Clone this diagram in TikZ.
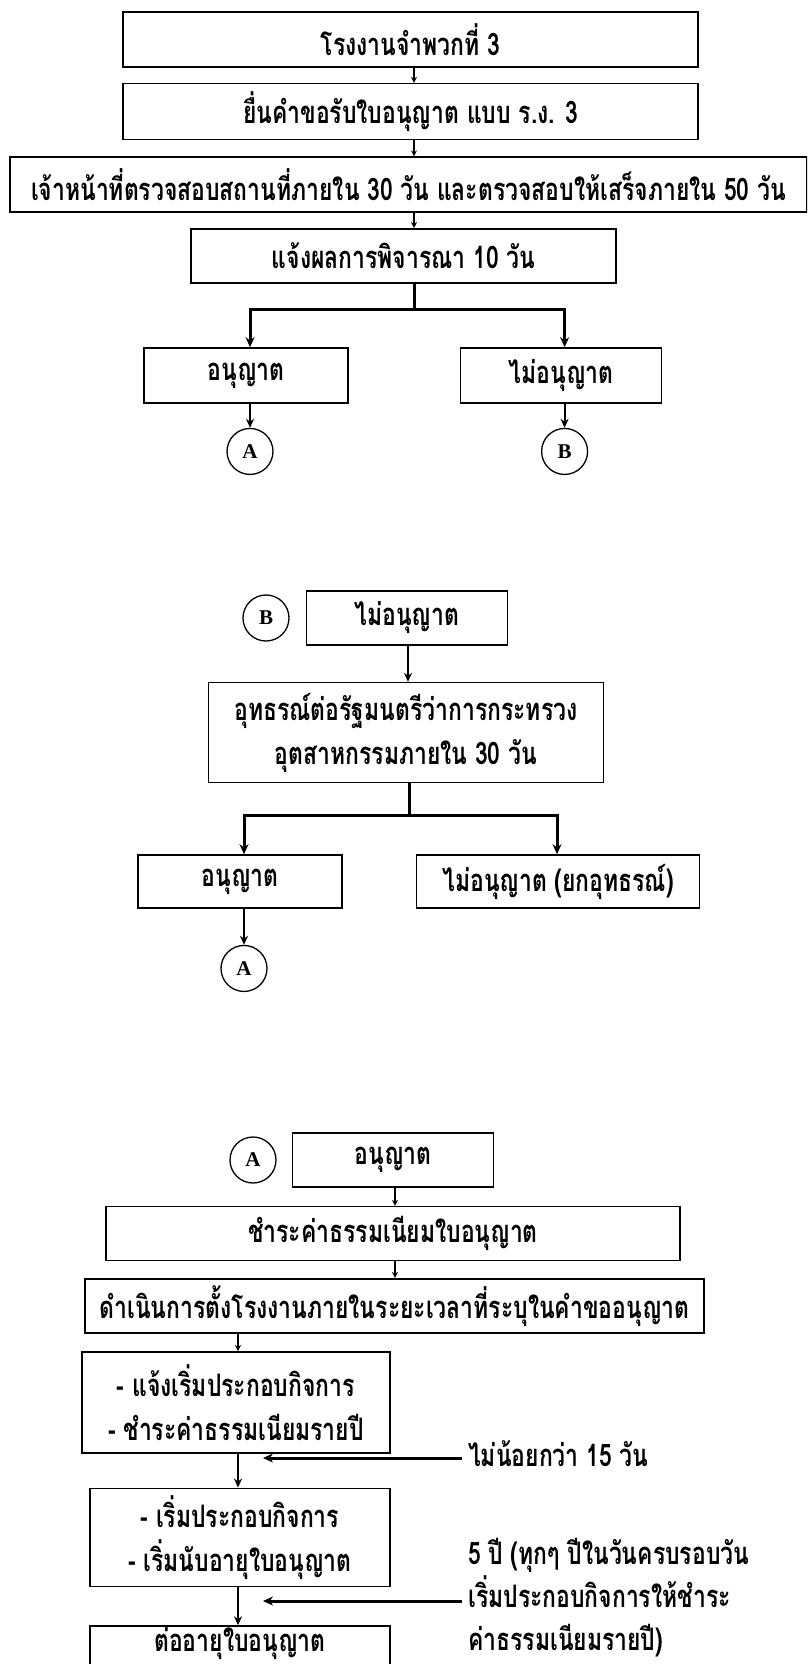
\documentclass[tikz,border=0pt]{standalone}
\usepackage{fontspec}
\setmainfont{Liberation Serif}
\newfontfamily\thaifont[Script=Thai,FakeStretch=0.74]{Loma}
\usetikzlibrary{arrows.meta,positioning}

\begin{document}
\begin{tikzpicture}[x=1pt,y=-1pt,>=Stealth,
  box/.style={draw,line width=1.6pt,rectangle,inner sep=0pt,align=center,font=\thaifont\bfseries\fontsize{31}{44}\selectfont},
  link/.style={circle,draw,line width=1.3pt,inner sep=0pt,minimum size=46pt,font=\bfseries\fontsize{21}{21}\selectfont},
  note/.style={inner sep=0pt,align=left,anchor=west,font=\thaifont\bfseries\fontsize{31}{43}\selectfont},
  hop/.style={line width=1.2pt,-{Stealth[length=6pt,width=6pt]}},
  mid/.style={line width=2pt,-{Stealth[length=9pt,width=8pt]}},
  branch/.style={line width=3pt},
  branchtip/.style={line width=3pt,-{Stealth[length=10pt,width=9pt]}}]
  \useasboundingbox (0,0) rectangle (807,1664);
  \clip (0,0) rectangle (807,1664);
  % first page: application
  \node[box,minimum width=575pt,minimum height=55pt] (plant) at (410.5,39.5) {โรงงานจำพวกที่ 3};
  \node[box,minimum width=575pt,minimum height=56pt,below=15pt of plant] (apply) {ยื่นคำขอรับใบอนุญาต แบบ ร.ง. 3};
  \node[box,minimum width=797pt,minimum height=55pt,below=16pt of apply,xshift=-2pt] (inspect) {เจ้าหน้าที่ตรวจสอบสถานที่ภายใน 30 วัน และตรวจสอบให้เสร็จภายใน 50 วัน};
  \node[box,minimum width=425pt,minimum height=54pt,below=15pt of inspect,xshift=-5pt] (notify) {แจ้งผลการพิจารณา 10 วัน};
  \node[box,minimum width=204pt,minimum height=55pt] (ok1) at (246,375.5) {อนุญาต};
  \node[box,minimum width=201pt,minimum height=55pt,right=111pt of ok1] (no1) {ไม่อนุญาต};
  \node[link,below=24pt of ok1,xshift=4pt] (ca1) {A};
  \node[link,below=24pt of no1,xshift=3.5pt] (cb1) {B};
  \coordinate (s1) at (414,0);
  \coordinate (j1) at (414,309);
  \draw[hop] (plant.south -| s1) -- (apply.north -| s1);
  \draw[hop] (apply.south -| s1) -- (inspect.north -| s1);
  \draw[hop] (inspect.south -| s1) -- (notify.north -| s1);
  \draw[branch] (notify.south -| s1) -- (j1);
  \draw[branchtip] (j1) -| (ca1 |- ok1.north);
  \draw[branchtip] (j1) -| (cb1 |- no1.north);
  \draw[mid] (ok1.south -| ca1) -- (ca1);
  \draw[mid] (no1.south -| cb1) -- (cb1);
  % second page: appeal
  \node[link] (cb2) at (266,618) {B};
  \node[box,minimum width=201pt,minimum height=54pt,right=16pt of cb2] (no2) {ไม่อนุญาต};
  \node[box,minimum width=395pt,minimum height=100pt,below=36pt of no2,xshift=-1pt] (appeal) {อุทธรณ์ต่อรัฐมนตรีว่าการกระทรวง\\อุตสาหกรรมภายใน 30 วัน};
  \node[box,minimum width=204pt,minimum height=53pt] (ok2) at (240,881.5) {อนุญาต};
  \node[box,minimum width=283pt,minimum height=53pt,right=73pt of ok2] (no3) {ไม่อนุญาต (ยกอุทธรณ์)};
  \node[link,below=36pt of ok2,xshift=4pt] (ca2) {A};
  \coordinate (s2) at (408,0);
  \coordinate (j2) at (409,815);
  \coordinate (t2) at (557,0);
  \draw[mid] (no2.south -| s2) -- (appeal.north -| s2);
  \draw[branch] (appeal.south -| j2) -- (j2);
  \draw[branchtip] (j2) -| (ca2 |- ok2.north);
  \draw[branchtip] (j2) -| (t2 |- no3.north);
  \draw[mid] (ok2.south -| ca2) -- (ca2);
  % third page: licence granted
  \node[link] (ca3) at (253,1160) {A};
  \node[box,minimum width=201pt,minimum height=54pt,right=15pt of ca3] (ok3) {อนุญาต};
  \node[box,minimum width=574pt,minimum height=54pt,below=18pt of ok3] (fee) {ชำระค่าธรรมเนียมใบอนุญาต};
  \node[box,minimum width=619pt,minimum height=54pt,below=16.5pt of fee,xshift=1.5pt] (build) {ดำเนินการตั้งโรงงานภายในระยะเวลาที่ระบุในคำขออนุญาต};
  \node[box,minimum width=308pt,minimum height=101pt,below=17.5pt of build,xshift=-158.5pt] (start) {- แจ้งเริ่มประกอบกิจการ\\- ชำระค่าธรรมเนียมรายปี};
  \node[box,minimum width=300pt,minimum height=98pt,below=34pt of start,xshift=4pt] (run) {- เริ่มประกอบกิจการ\\- เริ่มนับอายุใบอนุญาต};
  \node[box,minimum width=300pt,minimum height=60pt,text height=14pt,text depth=24pt,below=38pt of run] (renew) {ต่ออายุใบอนุญาต};
  \coordinate (s3) at (395,0);
  \coordinate (s4) at (238,0);
  \draw[hop] (ok3.south -| s3) -- (fee.north -| s3);
  \draw[hop] (fee.south -| s3) -- (build.north -| s3);
  \draw[hop] (build.south -| s4) -- (start.north -| s4);
  \draw[mid] (start.south -| s4) -- (run.north -| s4);
  \draw[mid] (run.south -| s4) -- (renew.north -| s4);
  \coordinate (q1) at (462,1458);
  \coordinate (e1) at (263,1458);
  \coordinate (q2) at (462,1601);
  \coordinate (e2) at (263,1601);
  \draw[branchtip] (q1) -- (e1);
  \draw[branchtip] (q2) -- (e2);
  \node[note,right=6pt of q1,yshift=4pt] (n1) {ไม่น้อยกว่า 15 วัน};
  \node[note,right=6pt of q2,yshift=3pt] (n2) {5 ปี (ทุกๆ ปีในวันครบรอบวัน\\เริ่มประกอบกิจการให้ชำระ\\ค่าธรรมเนียมรายปี)};
\end{tikzpicture}
\end{document}
